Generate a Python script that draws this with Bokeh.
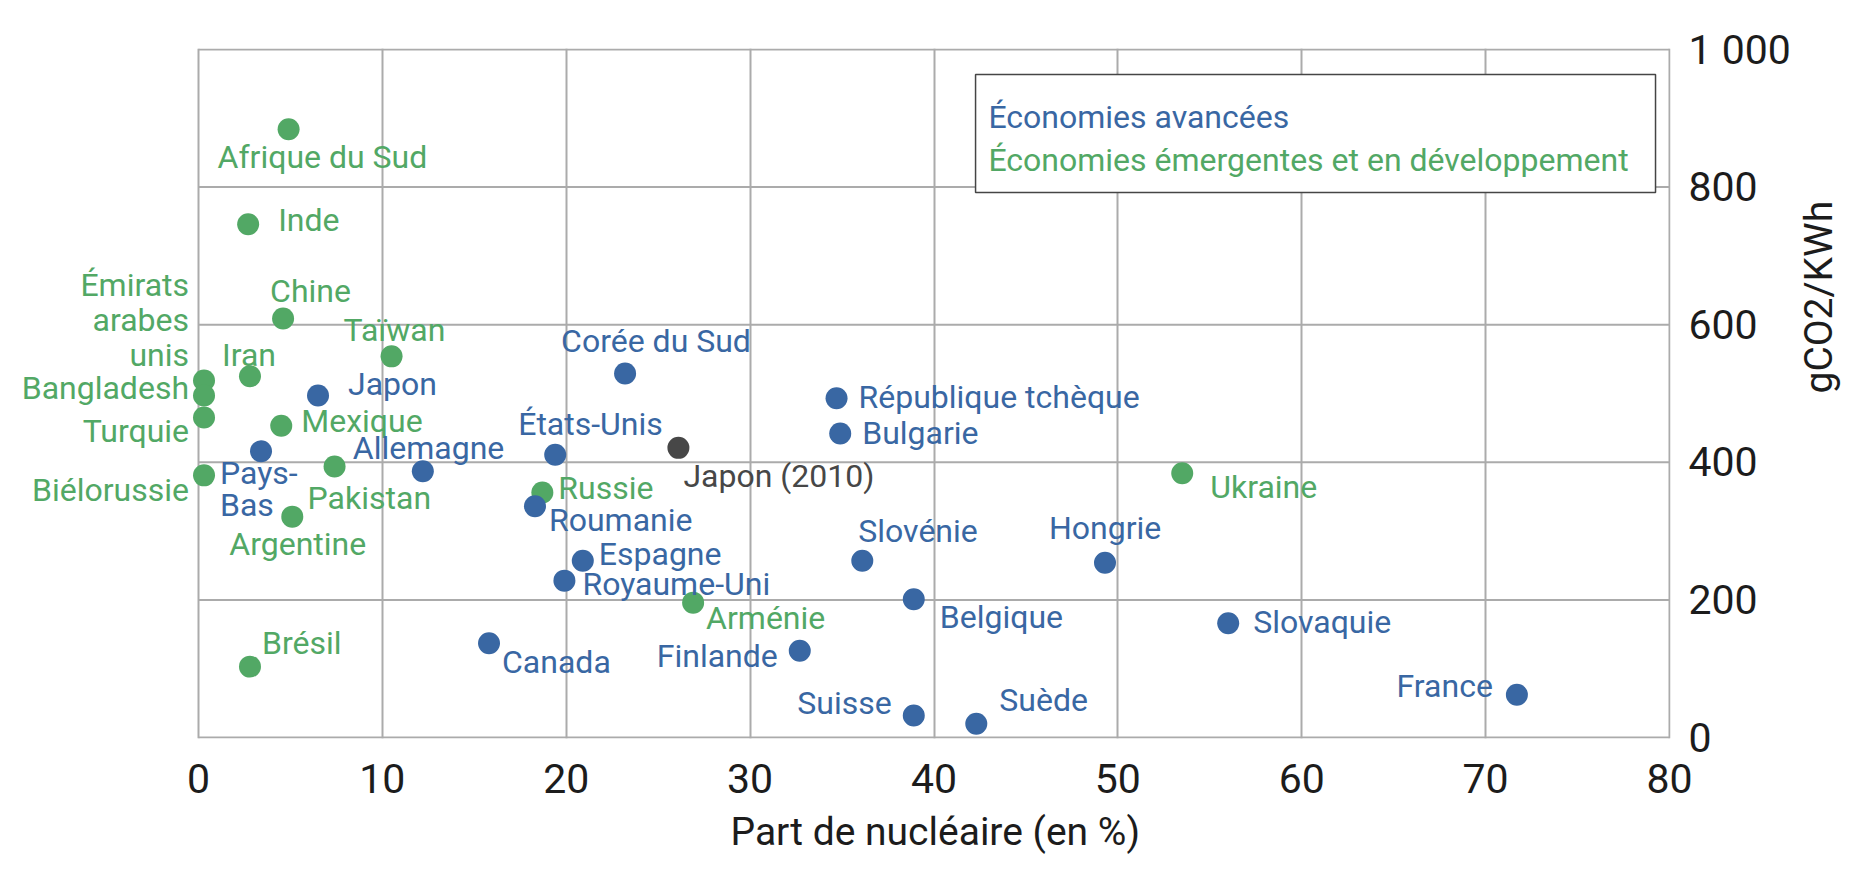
import math
from bokeh.plotting import figure
from bokeh.models import (Range1d, FixedTicker, ColumnDataSource, BoxAnnotation, Label,
                          LinearAxis, Title)
from bokeh.core.properties import value, field
from bokeh.embed import file_html
from bokeh.resources import INLINE

# ---------------- data ----------------
adv_names = ["Corée du Sud", "Japon", "Pays-Bas", "Allemagne", "États-Unis", "Roumanie",
             "Espagne", "Royaume-Uni", "Canada", "Finlande", "République tchèque", "Bulgarie",
             "Slovénie", "Belgique", "Hongrie", "Slovaquie", "Suisse", "Suède", "France"]
adv_x = [23.2, 6.5, 3.4, 12.2, 19.4, 18.3, 20.9, 19.9, 15.8, 32.7, 34.7, 34.9,
         36.1, 38.9, 49.3, 56.0, 38.9, 42.3, 71.7]
adv_y = [529, 497, 416, 387, 411, 336, 257, 228, 137, 126, 493, 442,
         257, 201, 254, 166, 32, 20, 62]

emg_names = ["Afrique du Sud", "Inde", "Chine", "Taïwan", "Iran", "Émirats arabes unis",
             "Bangladesh", "Turquie", "Mexique", "Pakistan", "Biélorussie", "Argentine",
             "Russie", "Brésil", "Arménie", "Ukraine"]
emg_x = [4.9, 2.7, 4.6, 10.5, 2.8, 0.3, 0.3, 0.3, 4.5, 7.4, 0.3, 5.1, 18.7, 2.8, 26.9, 53.5]
emg_y = [884, 746, 609, 554, 525, 519, 497, 465, 453, 394, 381, 321, 356, 103, 196, 384]

ref_names = ["Japon (2010)"]
ref_x = [26.1]
ref_y = [421]

x_ticks = [0, 10, 20, 30, 40, 50, 60, 70, 80]
y_ticks = [0, 200, 400, 600, 800, 1000]
y_tick_labels = ["0", "200", "400", "600", "800", "1 000"]
x_title = "Part de nucléaire (en %)"
y_title = "gCO2/KWh"
legend_texts = ["Économies avancées", "Économies émergentes et en développement"]

# ---------------- style ----------------
BLUE = "#3967a3"
GREEN = "#52a865"
GREY = "#474747"
GRID = "#ababab"
INK = "#1c1c1c"
LABEL_FONT = "Roboto"
TICK_FONT = "Roboto"
TITLE_FONT = "Roboto"
LABEL_SIZE = "32px"
BASELINE_FIX = -10   # text glyph baseline correction (px)

# label placement: pixel offset from the dot (dx, baseline dy downward, align)
place = {
    "Corée du Sud": (-64, -23, "left"), "Japon": (30, -2, "left"),
    "Pays-Bas": (-41, 32, "left"), "Allemagne": (-70, -13, "left"),
    "États-Unis": (-37, -21, "left"), "Roumanie": (14, 24, "left"),
    "Espagne": (16, 3, "left"), "Royaume-Uni": (18, 13, "left"),
    "Canada": (13, 29, "left"), "Finlande": (-22, 15, "right"),
    "République tchèque": (22, 9, "left"), "Bulgarie": (22, 10, "left"),
    "Slovénie": (-4, -20, "left"), "Belgique": (26, 28, "left"),
    "Hongrie": (-56, -25, "left"), "Slovaquie": (25, 9, "left"),
    "Suisse": (-22, -2, "right"), "Suède": (23, -14, "left"),
    "France": (-24, 1, "right"), "Japon (2010)": (5, 38, "left"),
    "Afrique du Sud": (-71, 38, "left"), "Inde": (30, 6, "left"),
    "Chine": (-13, -18, "left"), "Taïwan": (-48, -16, "left"),
    "Iran": (-28, -11, "left"), "Émirats arabes unis": (-15, -85, "right"),
    "Bangladesh": (-15, 2, "right"), "Turquie": (-15, 23, "right"),
    "Mexique": (20, 5, "left"), "Pakistan": (-27, 42, "left"),
    "Biélorussie": (-15, 25, "right"), "Argentine": (-63, 37, "left"),
    "Russie": (16, 5, "left"), "Brésil": (12, -14, "left"),
    "Arménie": (13, 25, "left"), "Ukraine": (28, 24, "left"),
}
wrapped = {"Émirats arabes unis": (["Émirats", "arabes", "unis"], 35),
           "Pays-Bas": (["Pays-", "Bas"], 32)}

# ---------------- layout ----------------
W, H = 1868, 880
AX_LEFT, AX_TOP, AX_W, AX_H = 198, 49, 1471, 688      # drawn axes box on the page
PXU = AX_W / (x_ticks[-1] - x_ticks[0])                # pixels per x unit
PYU = AX_H / (y_ticks[-1] - y_ticks[0])                # pixels per y unit
FL = 8                                                 # frame extends left so labels show
FW = (AX_LEFT - FL) + AX_W + 1
FT, FH = AX_TOP - 1, AX_H + 2
X_TITLE_W = 407                                        # approx. rendered width of x title

p = figure(width=W, height=H, output_backend="svg", toolbar_location=None,
           x_range=Range1d(x_ticks[0] - (AX_LEFT - FL) / PXU, x_ticks[-1] + 1 / PXU),
           y_range=Range1d(y_ticks[0] - 1 / PYU, y_ticks[-1] + 1 / PYU),
           y_axis_location="right",
           min_border_left=FL, min_border_right=W - FL - FW,
           min_border_top=FT, min_border_bottom=H - FT - FH)
p.background_fill_color = "white"
p.border_fill_color = "white"
p.outline_line_color = None

p.xaxis.ticker = FixedTicker(ticks=x_ticks)
p.yaxis.ticker = FixedTicker(ticks=y_ticks)
p.yaxis.major_label_overrides = {t: l for t, l in zip(y_ticks, y_tick_labels)}
for ax in (p.xaxis, p.yaxis):
    ax.axis_line_color = None
    ax.major_tick_line_color = None
    ax.minor_tick_line_color = None
    ax.major_label_text_font = TICK_FONT
    ax.major_label_text_font_size = "41px"
    ax.major_label_text_color = INK
    ax.axis_label_text_font = TITLE_FONT
    ax.axis_label_text_font_size = "39px"
    ax.axis_label_text_font_style = "normal"
    ax.axis_label_text_color = INK
p.xaxis.major_label_standoff = 19
p.yaxis.major_label_standoff = 12
p.yaxis.axis_label = y_title
p.yaxis.axis_label_standoff = 25
if "axis_label_orientation" in LinearAxis.properties():
    p.yaxis.axis_label_orientation = math.pi / 2

# x title centred on the axes box (not on the wider frame)
box_centre = AX_LEFT + AX_W / 2
p.add_layout(Title(text=x_title, align="left",
                   offset=box_centre - X_TITLE_W / 2 - FL,
                   text_font=TITLE_FONT, text_font_size="39px", text_font_style="normal",
                   text_color=INK, standoff=22), "below")

# grid: vertical lines from the axis grid, horizontal lines limited to the axes box
p.xgrid.ticker = FixedTicker(ticks=x_ticks)
p.xgrid.grid_line_color = GRID
p.xgrid.grid_line_width = 2
p.ygrid.visible = False
n = len(y_ticks)
p.segment(x0=[x_ticks[0]] * n, y0=y_ticks, x1=[x_ticks[-1]] * n, y1=y_ticks,
          line_color=GRID, line_width=2)

groups = [(emg_names, emg_x, emg_y, GREEN), (adv_names, adv_x, adv_y, BLUE),
          (ref_names, ref_x, ref_y, GREY)]

for names, xs, ys, col in groups:
    p.scatter(xs, ys, size=22, fill_color=col, line_color=None)

rows = dict(x=[], y=[], text=[], dx=[], dy=[], align=[], color=[])
for names, xs, ys, col in groups:
    for nm, xv, yv in zip(names, xs, ys):
        dx, dy, al = place[nm]
        lines, gap = wrapped.get(nm, ([nm], 0))
        for i, line in enumerate(lines):
            rows["x"].append(xv)
            rows["y"].append(yv)
            rows["text"].append(line)
            rows["dx"].append(dx)
            rows["dy"].append(dy + i * gap + BASELINE_FIX)
            rows["align"].append(al)
            rows["color"].append(col)
src = ColumnDataSource(rows)
p.text(x="x", y="y", text="text", source=src, text_align=field("align"),
       text_baseline="alphabetic", x_offset=field("dx"), y_offset=field("dy"),
       text_color=field("color"), text_font=value(LABEL_FONT),
       text_font_size=value(LABEL_SIZE))

# legend box (positions in axis units)
box = BoxAnnotation(left=42.26, right=79.24, top=963.7, bottom=792.2,
                    fill_color="white", fill_alpha=1.0, line_color="#454545",
                    line_alpha=1.0, line_width=1.5)
p.add_layout(box)
for txt, col, yy in zip(legend_texts, [BLUE, GREEN], [901.2, 838.7]):
    p.add_layout(Label(x=42.96, y=yy, text=txt, text_color=col, text_font=LABEL_FONT,
                       text_font_size=LABEL_SIZE, text_baseline="alphabetic"))

open("out.html", "w").write(file_html(p, INLINE))
